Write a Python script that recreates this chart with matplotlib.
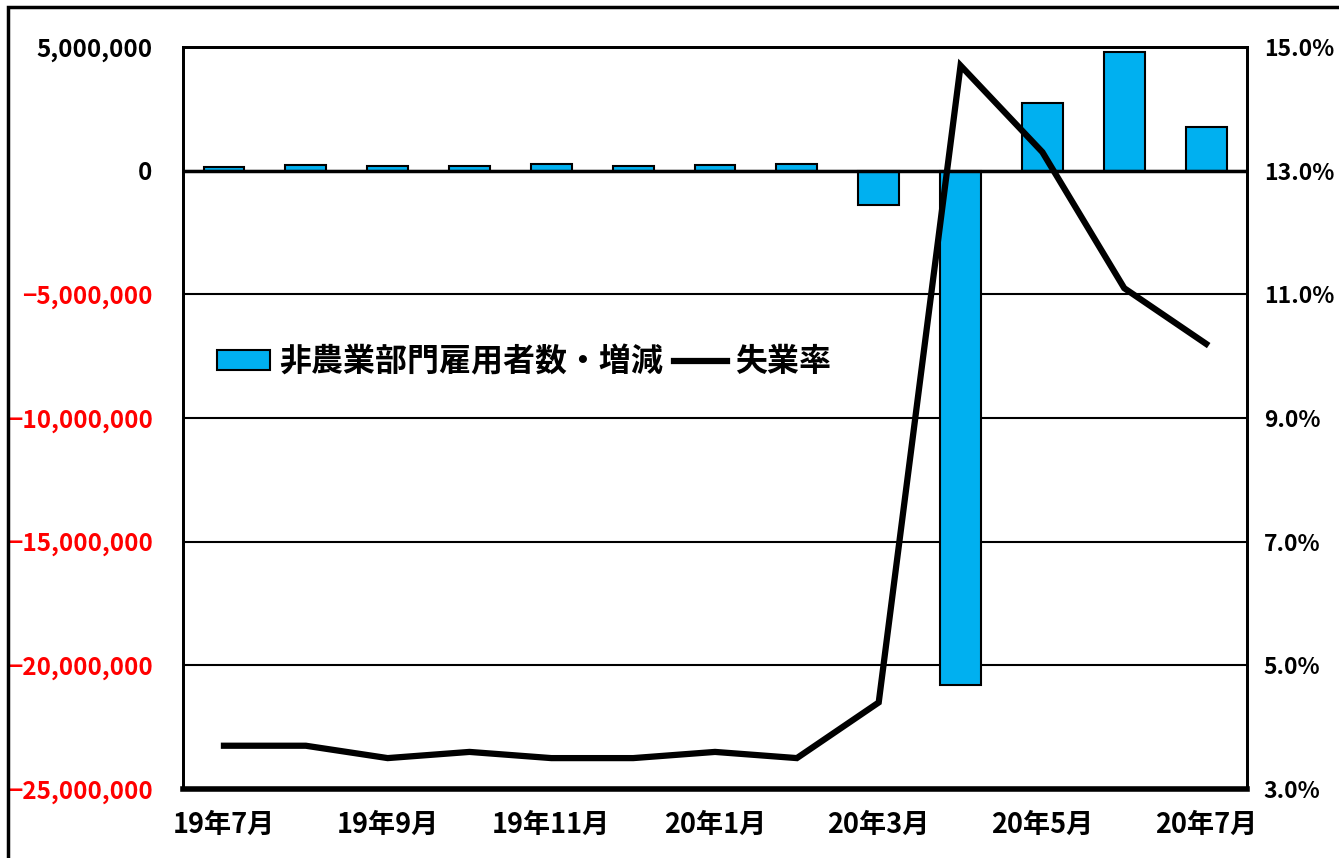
import matplotlib
matplotlib.use('Agg')
import matplotlib.pyplot as plt
from matplotlib.patches import Rectangle
from matplotlib.ticker import FuncFormatter, MultipleLocator

# ========== DATA ==========
months = ['19年7月', '19年8月', '19年9月', '19年10月', '19年11月', '19年12月',
          '20年1月', '20年2月', '20年3月', '20年4月', '20年5月', '20年6月', '20年7月']
payroll_change = [166000, 219000, 180000, 185000, 261000, 184000,
                  214000, 251000, -1373000, -20787000, 2725000, 4781000, 1763000]
unemployment = [3.7, 3.7, 3.5, 3.6, 3.5, 3.5, 3.6, 3.5, 4.4, 14.7, 13.3, 11.1, 10.2]
rate_ticks = [3.0, 5.0, 7.0, 9.0, 11.0, 13.0, 15.0]

bar_label = '非農業部門雇用者数・増減'
line_label = '失業率'

# ========== STYLE ==========
plt.rcParams['font.family'] = ['Noto Sans CJK JP', 'DejaVu Sans']
plt.rcParams['font.weight'] = 'bold'

BAR_COLOR = '#00B0F0'

fig = plt.figure(figsize=(13.39, 8.58), dpi=100)
ax = fig.add_axes([0.1367, 0.0804, 0.7946, 0.8648])
ax2 = ax.twinx()

# outer frame of the picture (runs off the right and bottom edges)
fig.patches.append(Rectangle((0.006, -0.05), 1.2, 0.9918 + 0.05, transform=fig.transFigure,
                             fill=False, edgecolor='black', linewidth=2.5, zorder=0))

x = list(range(len(months)))
bars = ax.bar(x, payroll_change, width=0.5, color=BAR_COLOR, edgecolor='black',
              linewidth=1.5, zorder=3, label=bar_label)

ax.set_xlim(-0.5, len(months) - 0.5)
ax.set_ylim(-25000000, 5000000)
ax.yaxis.set_major_locator(MultipleLocator(5000000))
ax.yaxis.set_major_formatter(FuncFormatter(lambda v, p: f'{v:,.0f}'.replace('-', '\u2212')))
ax.grid(axis='y', color='black', linewidth=1.5, zorder=1)
ax.axhline(0, color='black', linewidth=2.5, zorder=4)

ax.tick_params(axis='y', length=0, pad=22, labelsize=17.5)
ax.set_xticks(x[::2])
ax.set_xticklabels(months[::2], fontsize=19.5)
ax.tick_params(axis='x', length=0, pad=16)

line, = ax2.plot(x, unemployment, color='black', linewidth=4.5, zorder=5,
                 solid_joinstyle='miter', label=line_label)
ax2.set_ylim(3.0, 15.0)
ax2.set_yticks(rate_ticks)
ax2.yaxis.set_major_formatter(FuncFormatter(lambda v, p: f'{v:.1f}%'))
ax2.tick_params(axis='y', length=0, pad=12, labelsize=16.5)

ax.set_zorder(ax2.get_zorder() - 1)
ax2.patch.set_visible(False)

for spine in ax.spines.values():
    spine.set_linewidth(2)
for spine in ax2.spines.values():
    spine.set_linewidth(2)
ax2.spines['bottom'].set_linewidth(4)

fig.canvas.draw()
for lbl in ax.get_yticklabels():
    if lbl.get_text().startswith('\u2212'):
        lbl.set_color('red')

ax.legend([bars, line], [bar_label, line_label], loc='center left',
          bbox_to_anchor=(0.005, 0.575), frameon=False, ncol=2,
          handlelength=1.65, handleheight=0.55, columnspacing=0.35, handletextpad=0.28,
          prop={'family': ['Noto Sans CJK JP'], 'weight': 'bold', 'size': 23})

fig.savefig('out.png', dpi=100)
